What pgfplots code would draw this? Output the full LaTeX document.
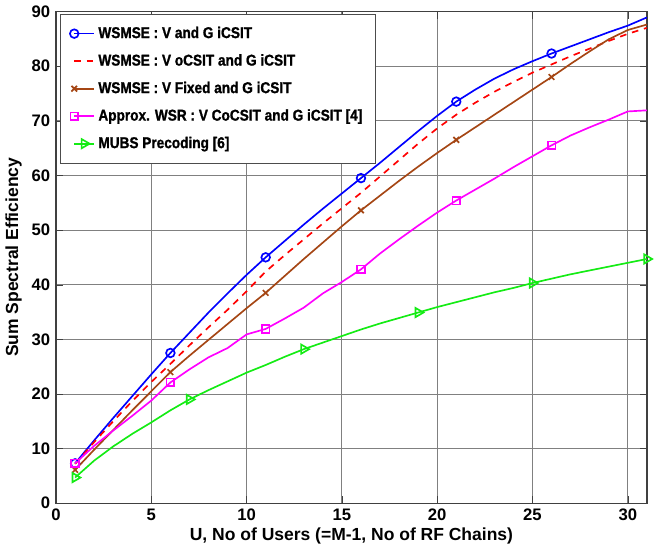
\documentclass[border=0pt]{standalone}
\usepackage{fontspec}
\setmainfont{Liberation Sans}
\newfontfamily\legfont[FakeStretch=0.87, FakeBold=1.2]{Liberation Sans Bold}
\usepackage{pgfplots}
\pgfplotsset{compat=1.18}
\usepackage{pgfplotstable}
\definecolor{mybrown}{RGB}{165,70,20}
\definecolor{mygreen}{RGB}{20,235,20}
\definecolor{mymag}{RGB}{255,0,255}
\definecolor{myblue}{RGB}{0,0,255}
\definecolor{myred}{RGB}{255,0,0}
\pgfplotstableread{
x blue red brown mag green
1 7.3 7.2 6.1 7.3 4.7
2 11.5 11.2 9.8 10.5 7.8
3 15.6 15.0 13.4 13.3 10.4
4 19.6 18.7 17.0 16.0 12.7
5 23.6 22.2 20.5 18.8 14.8
6 27.5 25.5 24.0 22.1 17.0
7 31.2 28.9 27.0 24.5 19.0
8 34.9 32.2 29.9 26.7 20.7
9 38.4 35.4 32.8 28.4 22.3
10 41.8 38.8 35.7 30.9 23.9
11 45.0 42.4 38.5 31.9 25.3
12 48.0 45.4 41.6 33.8 26.8
13 51.0 48.3 44.7 35.8 28.2
14 53.9 51.2 47.7 38.4 29.4
15 56.7 54.0 50.7 40.5 30.6
16 59.5 56.8 53.6 42.8 31.8
17 62.3 59.8 56.3 45.7 32.9
18 65.2 62.8 59.0 48.3 33.9
19 68.1 65.8 61.6 50.8 34.9
20 70.9 68.6 64.1 53.2 35.9
21 73.5 71.1 66.5 55.4 36.8
22 75.7 73.3 68.8 57.4 37.7
23 77.7 75.3 71.1 59.4 38.6
24 79.4 77.1 73.4 61.5 39.4
25 80.9 78.8 75.7 63.5 40.3
26 82.3 80.3 78.0 65.5 41.1
27 83.6 81.8 80.4 67.3 41.9
28 84.9 83.2 82.7 68.8 42.6
29 86.2 84.6 84.9 70.2 43.3
30 87.4 85.9 86.6 71.7 44.0
31 88.9 87.0 87.6 71.9 44.7
}\data
\begin{document}
\begin{tikzpicture}
\begin{axis}[
  name=ax,
  scale only axis,
  width=354.6pt, height=295.2pt,
  xmin=0, xmax=31, ymin=0, ymax=90,
  xtick={0,5,10,15,20,25,30},
  ytick={0,10,20,30,40,50,60,70,80,90},
  grid=major,
  major grid style={black!50, line width=0.5pt},
  axis line style={black!75, line width=0.8pt},
  tick style={black!75},
  tick align=inside,
  every tick label/.append style={font=\fontsize{10}{12}\selectfont\bfseries},
  /pgf/number format/assume math mode=true,
  xlabel={\bfseries U, No of Users (=M-1, No of RF Chains)},
  ylabel={\bfseries Sum Spectral Efficiency},
  label style={font=\fontsize{10.5}{12}\selectfont},
  xlabel style={yshift=3pt},
  ylabel style={yshift=-1pt},
  legend style={at={(0.006,0.995)}, anchor=north west, draw=black!70, fill=white,
    font=\fontsize{9.4}{11}\legfont, row sep=4.2pt, inner xsep=6pt, inner ysep=5.5pt,
    cells={anchor=west}},
  legend cell align=left,
  legend image code/.code={\draw[mark repeat=2,mark phase=2] plot coordinates {(0pt,0pt) (6pt,0pt) (12pt,0pt)};},
]
\addplot[myblue, line width=1pt, mark=o, mark size=2.6pt, mark indices={1,6,11,16,21,26}] table[x=x,y=blue]{\data};
\addlegendentry{WSMSE : V and G iCSIT}
\addplot[myred, line width=1pt, dash pattern=on 4pt off 3.5pt] table[x=x,y=red]{\data};
\addlegendentry{WSMSE : V oCSIT and G iCSIT}
\addplot[mybrown, line width=1pt, mark=x, mark size=2.4pt, mark indices={1,6,11,16,21,26}] table[x=x,y=brown]{\data};
\addlegendentry{WSMSE : V Fixed and G iCSIT}
\addplot[mymag, line width=1pt, mark=square, mark size=2.3pt, mark indices={1,6,11,16,21,26}] table[x=x,y=mag]{\data};
\addlegendentry{Approx. WSR : V CoCSIT and G iCSIT [4]}
\addplot[mygreen, line width=1pt, mark=triangle, mark options={rotate=-90}, mark size=3.2pt, mark repeat=6] table[x=x,y=green]{\data};
\addlegendentry{MUBS Precoding [6]}
\end{axis}
\path ([xshift=8.5pt]ax.south east);
\end{tikzpicture}
\end{document}
